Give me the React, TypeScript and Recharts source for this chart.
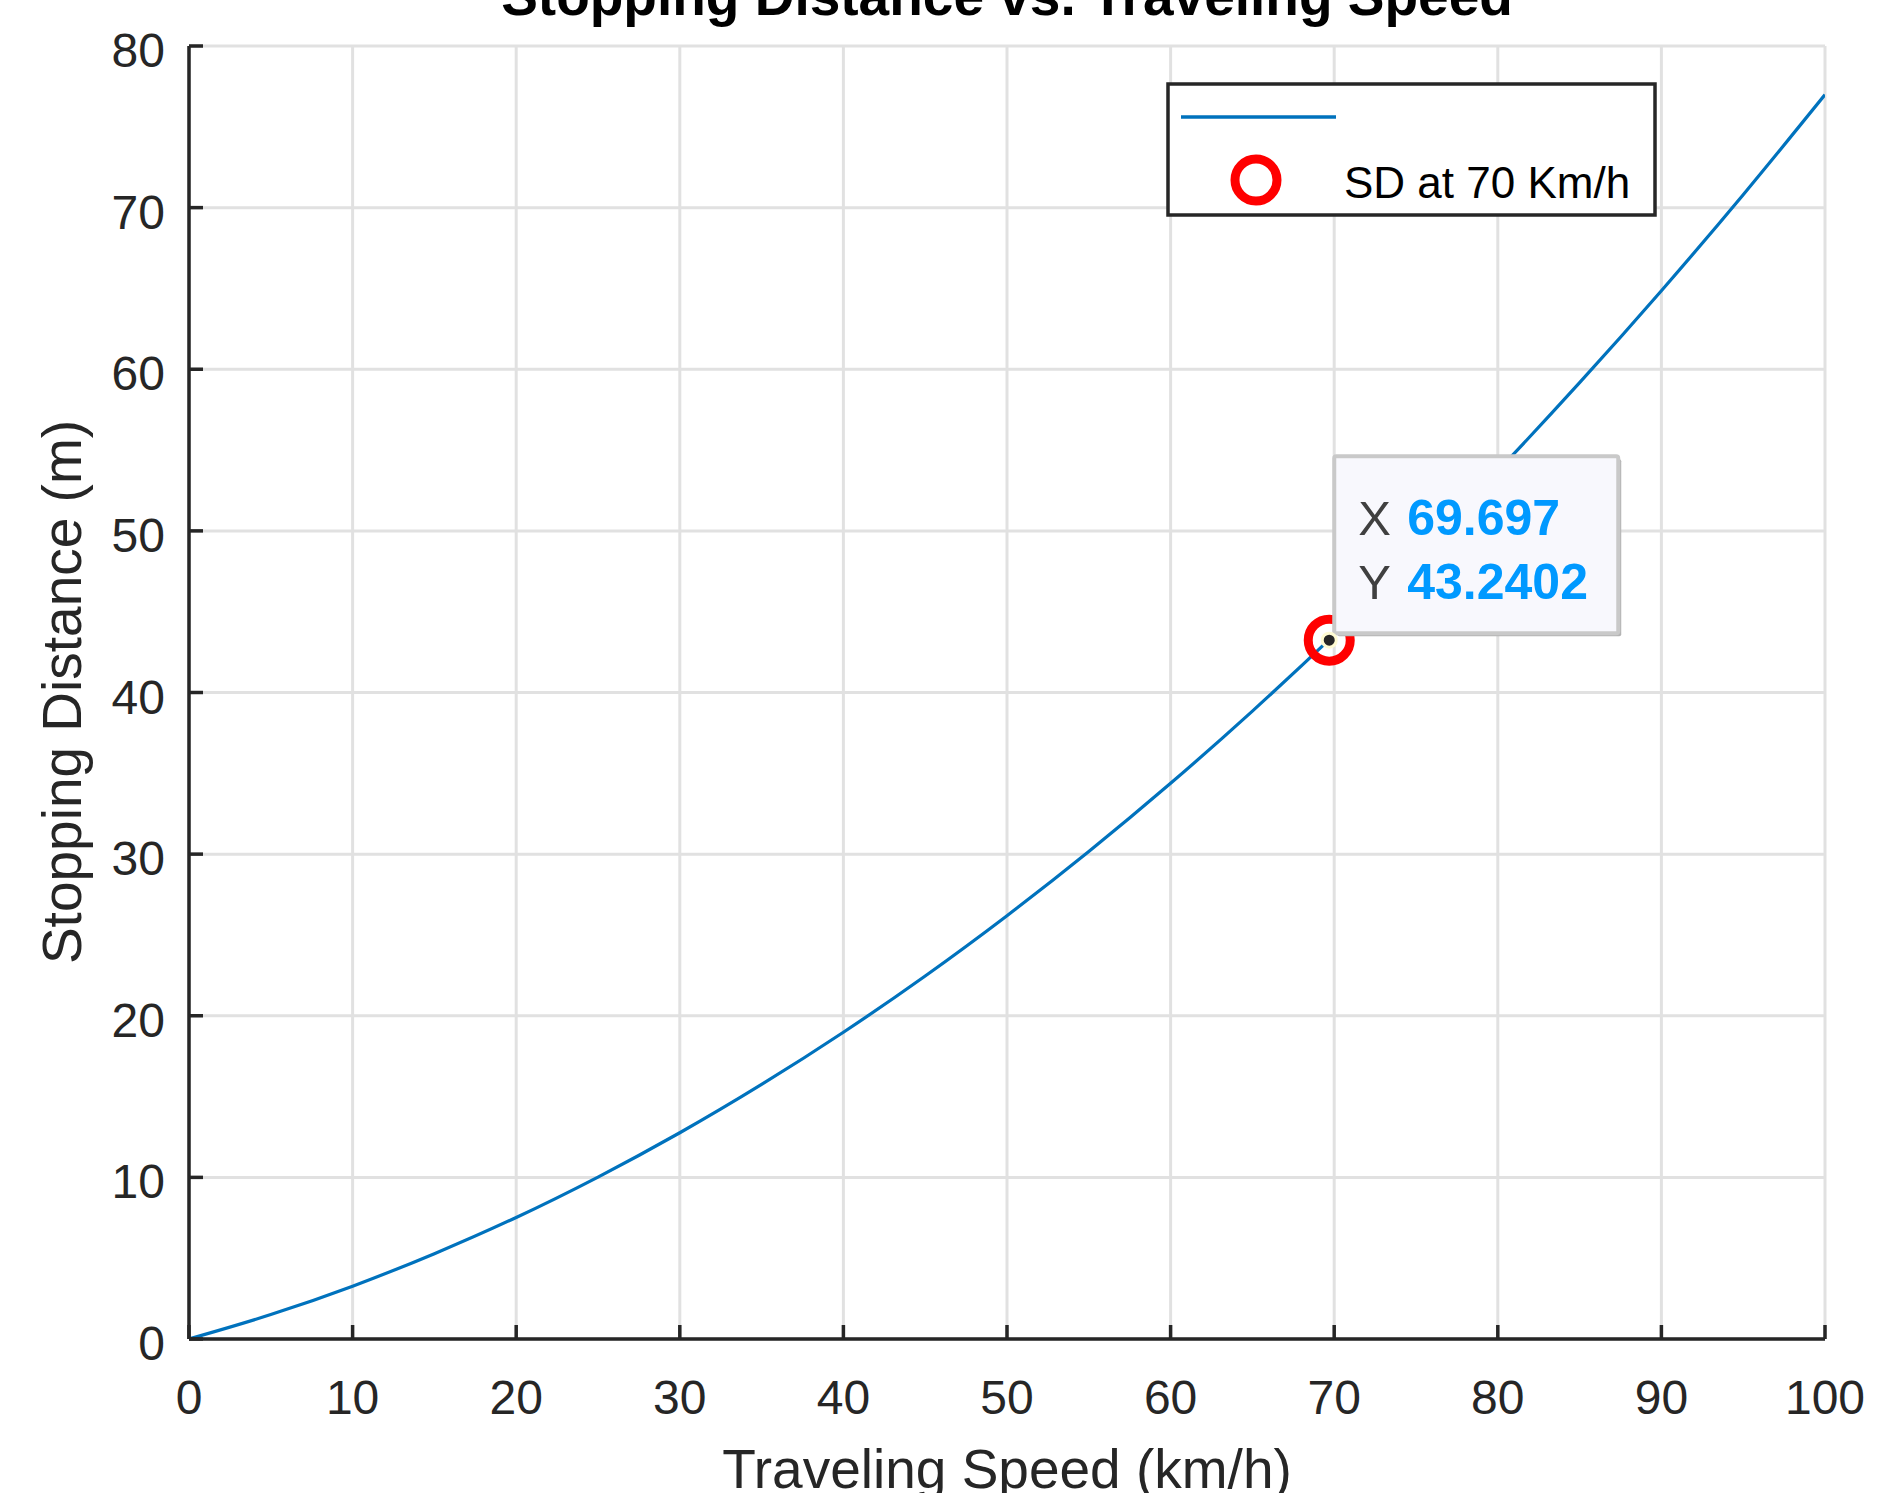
import React from 'react';
import { ComposedChart, Line, Scatter, XAxis, YAxis, CartesianGrid, Legend } from 'recharts';

// ---- data ----
const speedKmh = [0, 5, 10, 15, 20, 25, 30, 35, 40, 45, 50, 55, 60, 65, 70, 75, 80, 85, 90, 95, 100];
const stoppingDistanceM = [0, 1.51, 3.27, 5.28, 7.52, 10.02, 12.76, 15.75, 18.98, 22.46, 26.19, 30.16, 34.38, 38.85, 43.56, 48.52, 53.72, 59.17, 64.86, 70.8, 76.99];
const sdSpeed = [69.697];
const sdDistance = [43.2402];
const xTickValues = [0, 10, 20, 30, 40, 50, 60, 70, 80, 90, 100];
const yTickValues = [0, 10, 20, 30, 40, 50, 60, 70, 80];
const titleText = 'Stopping Distance vs. Traveling Speed';
const xLabelText = 'Traveling Speed (km/h)';
const yLabelText = 'Stopping Distance (m)';
const legendCurveLabel = '';
const legendMarkerLabel = 'SD at 70 Km/h';

const curveData = speedKmh.map((s, i) => ({ speed: s, distance: stoppingDistanceM[i] }));
const markerData = sdSpeed.map((s, i) => ({ speed: s, distance: sdDistance[i] }));

const FONT = '"Liberation Sans", Arial, Helvetica, sans-serif';
const AX = '#262626';
const BLUE = '#0072BD';
const TICK_LEN = 14;
const AXW = 3.5;

function BottomTick(props: any) {
  const { x, y, payload } = props;
  return (
    <g>
      <line x1={x} y1={y} x2={x} y2={y - TICK_LEN} stroke={AX} strokeWidth={AXW} />
      <text x={x} y={y + 75} textAnchor="middle" fontFamily={FONT} fontSize={48} fill={AX}>
        {payload.value}
      </text>
    </g>
  );
}
function TopTick(props: any) {
  const { x, y } = props;
  return <line x1={x} y1={y} x2={x} y2={y + TICK_LEN} stroke={AX} strokeWidth={AXW} />;
}
function LeftTick(props: any) {
  const { x, y, payload } = props;
  return (
    <g>
      <line x1={x} y1={y} x2={x + TICK_LEN} y2={y} stroke={AX} strokeWidth={AXW} />
      <text x={x - 24} y={y + 21} textAnchor="end" fontFamily={FONT} fontSize={48} fill={AX}>
        {payload.value}
      </text>
    </g>
  );
}
function RightTick(props: any) {
  const { x, y } = props;
  return <line x1={x} y1={y} x2={x - TICK_LEN} y2={y} stroke={AX} strokeWidth={AXW} />;
}

function DataTip(props: any) {
  const { cx, cy, payload } = props;
  const bx = cx + 5;
  const by = cy - 184;
  return (
    <g>
      <circle cx={cx} cy={cy} r={21} fill="none" stroke="#ff0000" strokeWidth={9} />
      <rect x={bx + 3} y={by + 3} width={284} height={177} fill="#b4b4b4" rx={2} />
      <rect x={bx} y={by} width={284} height={177} fill="#f8f8fd" stroke="#c9c9c9" strokeWidth={4} rx={2} />
      <text x={cx + 29} y={cy - 105} fontFamily={FONT} fontSize={49} fill="#404040">X</text>
      <text x={cx + 78} y={cy - 105} fontFamily={FONT} fontSize={50} fontWeight="bold" fill="#0099ff">
        {payload.speed}
      </text>
      <text x={cx + 29} y={cy - 41} fontFamily={FONT} fontSize={49} fill="#404040">Y</text>
      <text x={cx + 78} y={cy - 41} fontFamily={FONT} fontSize={50} fontWeight="bold" fill="#0099ff">
        {payload.distance}
      </text>
      <circle cx={cx} cy={cy} r={7} fill="#262626" stroke="#fffbd2" strokeWidth={3} />
    </g>
  );
}

function LegendBox() {
  return (
    <svg width={492} height={136} style={{ display: 'block' }}>
      <rect x={2} y={2} width={487} height={131} fill="#ffffff" stroke={AX} strokeWidth={3.5} />
      <line x1={15} y1={35} x2={170} y2={35} stroke={BLUE} strokeWidth={3.5} />
      <text x={178} y={48} fontFamily={FONT} fontSize={44} fill="#000">{legendCurveLabel}</text>
      <circle cx={90} cy={98} r={21} fill="none" stroke="#ff0000" strokeWidth={9} />
      <text x={178} y={116} fontFamily={FONT} fontSize={44} fill="#000">{legendMarkerLabel}</text>
    </svg>
  );
}

export default function App() {
  return (
    <div style={{ position: 'absolute', left: 0, top: 0, width: 1878, height: 1493, background: '#fff' }}>
      <ComposedChart
        width={1878}
        height={1493}
        margin={{ top: 46, right: 53, bottom: 0, left: 0 }}
        style={{ fontFamily: FONT }}
      >
        <CartesianGrid xAxisId="b" yAxisId="l" stroke="#e1e1e1" strokeWidth={3} />
        <XAxis
          xAxisId="b"
          type="number"
          dataKey="speed"
          domain={[0, 100]}
          allowDataOverflow
          ticks={xTickValues}
          interval={0}
          height={154}
          tickSize={0}
          tickMargin={0}
          tickLine={false}
          axisLine={{ stroke: AX, strokeWidth: AXW }}
          tick={<BottomTick />}
        />
        <XAxis
          xAxisId="t"
          orientation="top"
          type="number"
          domain={[0, 100]}
          allowDataOverflow
          ticks={xTickValues}
          interval={0}
          height={0}
          tickSize={0}
          tickMargin={0}
          tickLine={false}
          axisLine={{ stroke: AX, strokeWidth: AXW }}
          tick={<TopTick />}
        />
        <YAxis
          yAxisId="l"
          type="number"
          dataKey="distance"
          domain={[0, 80]}
          allowDataOverflow
          ticks={yTickValues}
          interval={0}
          width={189}
          tickSize={0}
          tickMargin={0}
          tickLine={false}
          axisLine={{ stroke: AX, strokeWidth: AXW }}
          tick={<LeftTick />}
        />
        <YAxis
          yAxisId="r"
          orientation="right"
          type="number"
          domain={[0, 80]}
          allowDataOverflow
          ticks={yTickValues}
          interval={0}
          width={0}
          tickSize={0}
          tickMargin={0}
          tickLine={false}
          axisLine={{ stroke: AX, strokeWidth: AXW }}
          tick={<RightTick />}
        />
        <Line
          xAxisId="b"
          yAxisId="l"
          data={curveData}
          dataKey="distance"
          type="monotone"
          stroke={BLUE}
          strokeWidth={3.2}
          dot={false}
          activeDot={false}
          isAnimationActive={false}
        />
        <Scatter
          xAxisId="b"
          yAxisId="l"
          data={markerData}
          dataKey="distance"
          shape={<DataTip />}
          isAnimationActive={false}
        />
        <Legend
          layout="horizontal"
          verticalAlign="middle"
          align="center"
          content={() => <LegendBox />}
          wrapperStyle={{ position: 'absolute', left: 1166, top: 82, width: 492, height: 136 }}
        />
      </ComposedChart>
      <svg
        width={1878}
        height={1493}
        style={{ position: 'absolute', left: 0, top: 0, pointerEvents: 'none' }}
      >
        <text x={1007} y={15} textAnchor="middle" fontFamily={FONT} fontSize={55} fontWeight="bold" fill="#000">
          {titleText}
        </text>
        <text x={1007} y={1488} textAnchor="middle" fontFamily={FONT} fontSize={55} fill={AX}>
          {xLabelText}
        </text>
        <text
          x={81}
          y={692}
          textAnchor="middle"
          fontFamily={FONT}
          fontSize={55}
          fill={AX}
          transform="rotate(-90 81 692)"
        >
          {yLabelText}
        </text>
      </svg>
    </div>
  );
}
